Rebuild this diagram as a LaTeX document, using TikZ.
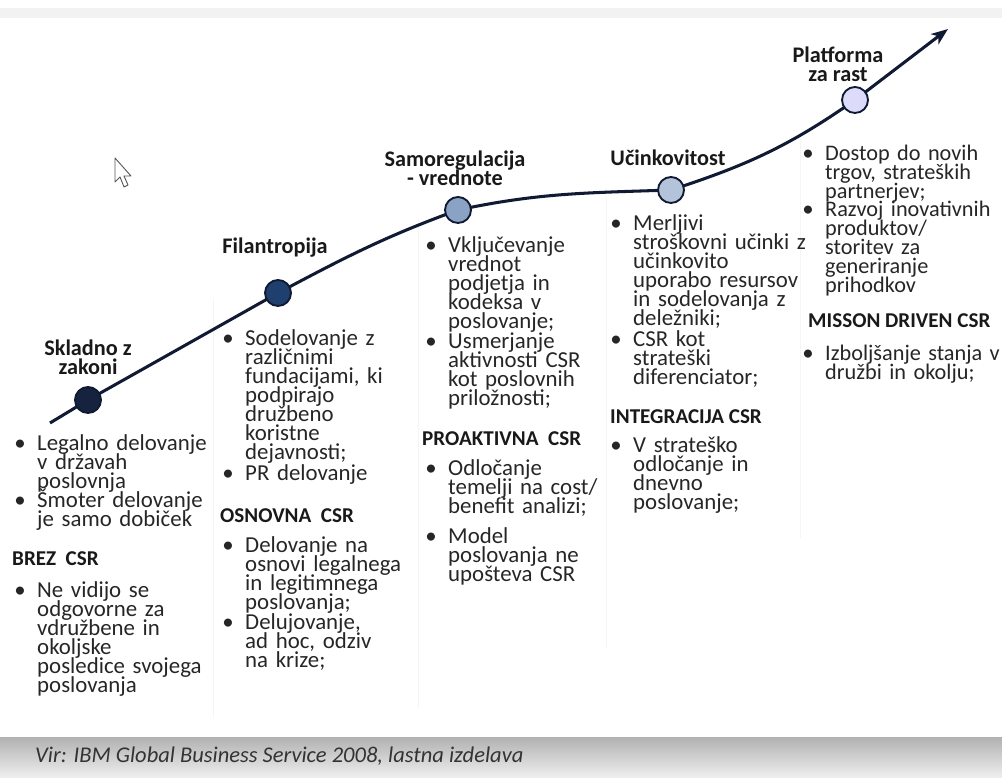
\documentclass[tikz,border=0pt]{standalone}
\usepackage{fontspec}
\setmainfont{Carlito}
\usetikzlibrary{arrows.meta,positioning}

\definecolor{pathnavy}{HTML}{111A33}
\definecolor{dotA}{HTML}{15233F}
\definecolor{dotB}{HTML}{1F3F6E}
\definecolor{dotC}{HTML}{8AA3C4}
\definecolor{dotD}{HTML}{B3C3DA}
\definecolor{dotE}{HTML}{DCDCFA}

\tikzset{
	txt/.style={anchor=base west,inner sep=0pt,text width=56mm,align=left,text=black!85,
		font={\fontsize{19.5}{16.2}\selectfont\lineskiplimit=-30pt}},
	txtr/.style={txt,text width=53.4mm,
		font={\fontsize{19}{16.2}\selectfont\lineskiplimit=-30pt}},
	bul/.style={anchor=base,inner sep=0pt,text=black!85,font=\fontsize{19.5}{16}\selectfont},
	head/.style={anchor=base west,inner sep=0pt,text=black!90,
		font=\bfseries\fontsize{18}{16}\selectfont},
	stage/.style={align=center,inner sep=0pt,text=black!90,
		font={\bfseries\fontsize{19}{16.2}\selectfont\lineskiplimit=-30pt}},
	dot/.style={circle,draw=pathnavy,line width=1.6pt,minimum size=7.8mm,inner sep=0pt},
	sep/.style={gray!8,line width=0.6pt}
}

\begin{document}
\begin{tikzpicture}[x=0.3mm,y=0.3mm]
	\useasboundingbox (0,0) rectangle (1002,778);
	% screenshot frame
	\fill[gray!10] (0,760) rectangle (1002,770);
	\shade[top color=gray!60,bottom color=gray!12] (0,0) rectangle (1002,40);
	\node[anchor=base west,inner sep=0pt,text=black!80,
		font=\itshape\fontsize{19.2}{18}\selectfont] (src) at (35,15)
		{Vir: IBM Global Business Service 2008, lastna izdelava};
	% faint column rules
	\draw[sep] (213,60) -- (213,480);
	\draw[sep] (418,70) -- (418,560);
	\draw[sep] (606,130) -- (606,590);
	\draw[sep] (800,240) -- (800,640);
	% mouse pointer
	\draw[fill=white,draw=gray!70!black,line width=0.8pt,line join=round]
		(115,620) -- (115,596) -- (120,601) -- (124,591) -- (128,593)
		-- (124,602) -- (131,602) -- cycle;

	% Growth path
	\coordinate (s) at (50,355);
	\coordinate (c1) at (88,378);
	\coordinate (c2) at (278,485);
	\coordinate (c3) at (458,568);
	\coordinate (c4) at (671,588);
	\coordinate (c5) at (855,678);
	\coordinate (tip) at (948,749);
	\draw[pathnavy,line width=2.6pt,-{Stealth[length=5mm,width=3.8mm,inset=1.4mm]}]
		(s) -- (c1) -- (c2) to[out=28,in=200] (c3) to[out=12,in=182] (c4)
		to[out=18,in=215] (c5) -- (tip);
	\foreach \i/\col in {1/dotA,2/dotB,3/dotC,4/dotD,5/dotE}
	\node[dot,fill=\col] (d\i) at (c\i) {};

	% stage labels
	\node[stage] (s1) at (88,421) {Skladno z\\zakoni};
	\node[stage] (s2) at (275,530) {Filantropija};
	\node[stage] (s3) at (455,610) {Samoregulacija\\- vrednote};
	\node[stage] (s4) at (668,620) {Učinkovitost};
	\node[stage] (s5) at (838,714) {Platforma\\za rast};

	% column 1
	\node[txt] (a1) at (37,327) {Legalno delovanje\\v državah\\poslovnja};
	\node[txt] (a2) at (37,270) {Šmoter delovanje\\je samo dobiček};
	\node[head] (ha) at (12,212) {BREZ\ \ CSR};
	\node[txt] (a3) at (37,180) {Ne vidijo se\\odgovorne za\\vdružbene in\\okoljske\\posledice svojega\\poslovanja};
	% column 2
	\node[txt] (b1) at (245,432) {Sodelovanje z\\različnimi\\fundacijami, ki\\podpirajo\\družbeno\\koristne\\dejavnosti;};
	\node[txt] (b2) at (245,297) {PR delovanje};
	\node[head] (hb) at (220,255) {OSNOVNA\ \ CSR};
	\node[txt] (b3) at (245,225) {Delovanje na\\osnovi legalnega\\in legitimnega\\poslovanja;};
	\node[txt] (b4) at (245,148) {Delujovanje,\\ad hoc, odziv\\na krize;};
	% column 3
	\node[txt] (c1t) at (448,525) {Vključevanje\\vrednot\\podjetja in\\kodeksa v\\poslovanje;};
	\node[txt] (c2t) at (448,429) {Usmerjanje\\aktivnosti CSR\\kot poslovnih\\priložnosti;};
	\node[head] (hc) at (422,332) {PROAKTIVNA\ \ CSR};
	\node[txt] (c3t) at (448,302) {Odločanje\\temelji na cost/\\benefit analizi;};
	\node[txt] (c4t) at (448,234) {Model\\poslovanja ne\\upošteva CSR};
	% column 4
	\node[txt] (e1) at (633,547) {Merljivi\\stroškovni učinki z\\učinkovito\\uporabo resursov\\in sodelovanja z\\deležniki;};
	\node[txt] (e2) at (633,431) {CSR kot\\strateški\\diferenciator;};
	\node[head] (he) at (610,354) {INTEGRACIJA CSR};
	\node[txt] (e3) at (633,325) {V strateško\\odločanje in\\dnevno\\poslovanje;};
	% column 5
	\node[txtr] (f1) at (825,617) {Dostop do novih\\trgov, strateških\\partnerjev;};
	\node[txtr] (f2) at (825,561) {Razvoj inovativnih\\produktov/\\storitev za\\generiranje\\prihodkov};
	\node[head] (hf) at (808,450) {MISSON DRIVEN CSR};
	\node[txtr] (f3) at (825,417) {Izboljšanje stanja v\\družbi in okolju;};

	% bullets in front of every item
	\foreach \n in {a1,a2,a3,b1,b2,b3,b4,c1t,c2t,c3t,c4t,e1,e2,e3,f1,f2,f3}
	\node[bul] (\n-b) at ([xshift=-5.1mm]\n.base west) {\textbullet};
\end{tikzpicture}
\end{document}
